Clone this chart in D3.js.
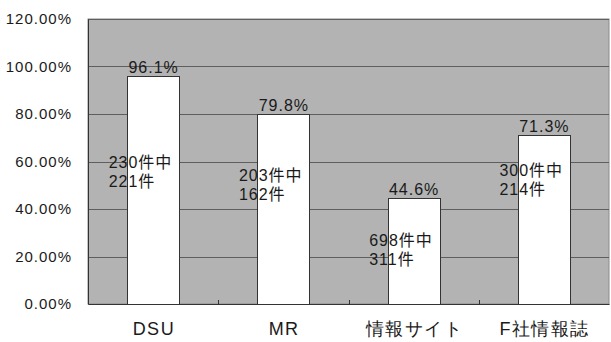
<!DOCTYPE html>
<html>
<head>
<meta charset="utf-8">
<script src="https://cdn.jsdelivr.net/npm/d3@7"></script>
<style>
  body { margin: 0; background: #ffffff; }
  svg { display: block; font-family: "Liberation Sans", "Noto Sans CJK JP", sans-serif; }
</style>
</head>
<body>
<svg id="chart"></svg>
<script>
// chart values
const categories = ['DSU', 'MR', '情報サイト', 'F社情報誌'];
const rates = [0.961, 0.798, 0.446, 0.713];
const totals = [230, 203, 698, 300];
const hits = [221, 162, 311, 214];
// level (as a rate) where each count note starts
const noteLevels = [0.573, 0.518, 0.244, 0.539];
const yTicks = [0, 0.2, 0.4, 0.6, 0.8, 1.0, 1.2];

const width = 611;
const height = 342;
const margin = { top: 19, right: 2, bottom: 38, left: 88 };

const svg = d3.select('#chart')
  .attr('width', width)
  .attr('height', height);

// scales
const x = d3.scaleBand()
  .domain(categories)
  .range([margin.left, width - margin.right])
  .paddingInner(0.6)
  .paddingOuter(0.3);

const y = d3.scaleLinear()
  .domain([0, 1.2])
  .range([height - margin.bottom, margin.top]);

// plot background
svg.append('rect')
  .attr('x', margin.left)
  .attr('y', margin.top)
  .attr('width', width - margin.right - margin.left)
  .attr('height', y(0) - margin.top)
  .attr('fill', '#b3b3b3')
  .attr('stroke', '#8a8a8a')
  .attr('stroke-width', 1);

// gridlines
svg.append('g')
  .selectAll('line')
  .data(yTicks.filter((d) => d > 0))
  .enter()
  .append('line')
  .attr('x1', margin.left)
  .attr('x2', width - margin.right)
  .attr('y1', (d) => Math.round(y(d)) + 0.5)
  .attr('y2', (d) => Math.round(y(d)) + 0.5)
  .attr('stroke', '#5e5e5e')
  .attr('stroke-width', 1);

// bars
svg.append('g')
  .selectAll('rect')
  .data(rates)
  .enter()
  .append('rect')
  .attr('x', (d, i) => Math.round(x(categories[i])) + 0.5)
  .attr('y', (d) => Math.round(y(d)) + 0.5)
  .attr('width', Math.round(x.bandwidth()))
  .attr('height', (d) => Math.round(y(0)) - Math.round(y(d)))
  .attr('fill', '#ffffff')
  .attr('stroke', '#333333')
  .attr('stroke-width', 1);

// y axis
const yAxisGroup = svg.append('g')
  .attr('transform', `translate(${margin.left},0)`)
  .call(d3.axisLeft(y).tickValues(yTicks).tickFormat(d3.format('.2%')).tickSize(0).tickPadding(16));
yAxisGroup.select('.domain').attr('stroke', '#333333');
yAxisGroup.selectAll('text')
  .attr('fill', '#1a1a1a')
  .style('font-size', '15px')
  .style('letter-spacing', '1px');

// x axis
const xAxisGroup = svg.append('g')
  .attr('transform', `translate(0,${y(0)})`)
  .call(d3.axisBottom(x).tickSize(0).tickPadding(18));
xAxisGroup.select('.domain').attr('stroke', '#333333');
xAxisGroup.selectAll('text')
  .attr('fill', '#1a1a1a')
  .attr('dx', '0.75px')
  .style('font-size', '18px')
  .style('letter-spacing', '1.5px');

// small inner ticks between categories
svg.append('g')
  .selectAll('line')
  .data(categories.slice(1))
  .enter()
  .append('line')
  .attr('x1', (d) => Math.round(x(d) - (x.step() * x.paddingInner()) / 2) + 0.5)
  .attr('x2', (d) => Math.round(x(d) - (x.step() * x.paddingInner()) / 2) + 0.5)
  .attr('y1', y(0))
  .attr('y2', y(0) - 4)
  .attr('stroke', '#333333');

// value labels above bars
svg.append('g')
  .selectAll('text')
  .data(rates)
  .enter()
  .append('text')
  .attr('x', (d, i) => x(categories[i]) + x.bandwidth() / 2 + 0.5)
  .attr('y', (d) => y(d) - 3)
  .attr('text-anchor', 'middle')
  .attr('fill', '#1a1a1a')
  .style('font-size', '16px')
  .style('letter-spacing', '1px')
  .text((d) => d3.format('.1%')(d));

// count notes
const notes = svg.append('g')
  .selectAll('text')
  .data(categories)
  .enter()
  .append('text')
  .attr('fill', '#1a1a1a')
  .style('font-size', '16px')
  .style('letter-spacing', '1px');

notes.append('tspan')
  .attr('x', (d) => x(d) + x.bandwidth() / 2 - 44.5)
  .attr('y', (d, i) => y(noteLevels[i]))
  .text((d, i) => `${totals[i]}件中`);

notes.append('tspan')
  .attr('x', (d) => x(d) + x.bandwidth() / 2 - 44.5)
  .attr('y', (d, i) => y(noteLevels[i]) + 19)
  .text((d, i) => `${hits[i]}件`);
</script>
</body>
</html>
